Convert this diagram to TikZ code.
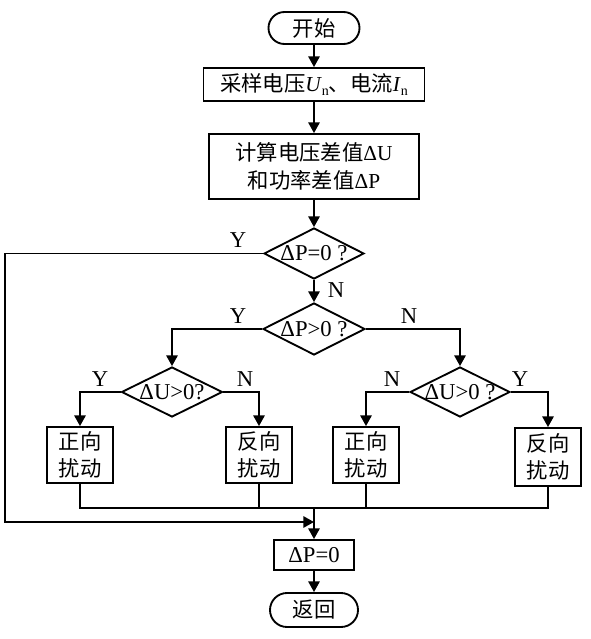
\documentclass[tikz,border=0pt]{standalone}
\usepackage{fontspec}
\setmainfont{Liberation Serif}
\newfontfamily\cjk{Noto Sans CJK SC}
\usetikzlibrary{shapes.geometric,shapes.misc,arrows.meta}
\newcommand{\zh}[1]{{\cjk #1}}
\newcommand{\sub}[1]{\raisebox{-0.45ex}{\fontsize{10.5}{10.5}\selectfont #1}}
\newcommand{\ctr}[1]{\smash{\makebox[0pt]{\raisebox{-0.33em}{#1}}}}
\begin{document}
\begin{tikzpicture}[x=0.75pt,y=-0.75pt,
  every node/.style={font=\fontsize{16}{20.5}\selectfont},
  base/.style={draw,line width=1.4pt,inner sep=0pt,align=center},
  term/.style={base,rounded rectangle},
  proc/.style={base,rectangle},
  dec/.style={base,diamond,font=\fontsize{17}{20}\selectfont},
  flow/.style={line width=1.4pt,-{Triangle[length=8pt,width=8.5pt]}},
  plain/.style={line width=1.4pt},
  lab/.style={inner sep=0pt,font=\fontsize{17}{20}\selectfont}
]
\useasboundingbox (0,0) rectangle (591,639);

\node[term,minimum width=68.25pt,minimum height=24pt] (start) at (314,28) {\zh{开始}};
\node[proc,minimum width=165.75pt,minimum height=24.75pt] (s1) at (314,84.5)
  {\zh{采样电压}\textit{U}\sub{n}\zh{、电流}\textit{I}\sub{n}};
\node[proc,minimum width=157.5pt,minimum height=48.75pt] (s2) at (314,166.5)
  {\zh{计算电压差值}ΔU\\\zh{和功率差值}ΔP};
\node[dec,minimum width=75pt,minimum height=38.25pt] (d1) at (314,253.5) {\ctr{ΔP=0 ?}};
\node[dec,minimum width=76.5pt,minimum height=39pt] (d2) at (314,329) {\ctr{ΔP>0 ?}};
\node[dec,minimum width=75.75pt,minimum height=37.5pt] (d3) at (172,392) {\ctr{ΔU>0?}};
\node[dec,minimum width=75pt,minimum height=37.5pt] (d4) at (460,392) {\ctr{ΔU>0 ?}};
\node[proc,minimum width=49.5pt,minimum height=42pt] (b1) at (80,455) {\zh{正向}\\\zh{扰动}};
\node[proc,minimum width=49.5pt,minimum height=42pt] (b2) at (259,455) {\zh{反向}\\\zh{扰动}};
\node[proc,minimum width=49.5pt,minimum height=42pt] (b3) at (366,455) {\zh{正向}\\\zh{扰动}};
\node[proc,minimum width=49.5pt,minimum height=43.5pt] (b4) at (548,457) {\zh{反向}\\\zh{扰动}};
\node[proc,minimum width=60pt,minimum height=22.5pt,font=\fontsize{17}{20}\selectfont] (p0) at (314,555) {ΔP=0};
\node[term,minimum width=66pt,minimum height=25.5pt] (end) at (314,610) {\zh{返回}};

\coordinate (col) at (314,508);
\coordinate (lft) at (5,522);
\coordinate (mg) at (314,522);

\draw[flow] (start) -- (s1);
\draw[flow] (s1) -- (s2);
\draw[flow] (s2) -- (d1);
\draw[flow] (d1) -- (d2);
\draw[flow] (d1.west) -| (lft) -- (mg);
\draw[flow] (d2.west) -| (d3.north);
\draw[flow] (d2.east) -| (d4.north);
\draw[flow] (d3.west) -| (b1.north);
\draw[flow] (d3.east) -| (b2.north);
\draw[flow] (d4.west) -| (b3.north);
\draw[flow] (d4.east) -| (b4.north);
\draw[plain] (b1.south) -- (b1.south |- col) -- (b4.south |- col) -- (b4.south);
\draw[plain] (b2.south) -- (b2.south |- col);
\draw[plain] (b3.south) -- (b3.south |- col);
\draw[flow] (col) -- (p0);
\draw[flow] (p0) -- (end);

\node[lab] (ly1) at (238,240) {Y};
\node[lab] (ln1) at (336,290) {N};
\node[lab] (ly2) at (238,316) {Y};
\node[lab] (ln2) at (409,316) {N};
\node[lab] (ly3) at (100,379) {Y};
\node[lab] (ln3) at (245,379) {N};
\node[lab] (ln4) at (392,379) {N};
\node[lab] (ly4) at (520,379) {Y};
\end{tikzpicture}
\end{document}
